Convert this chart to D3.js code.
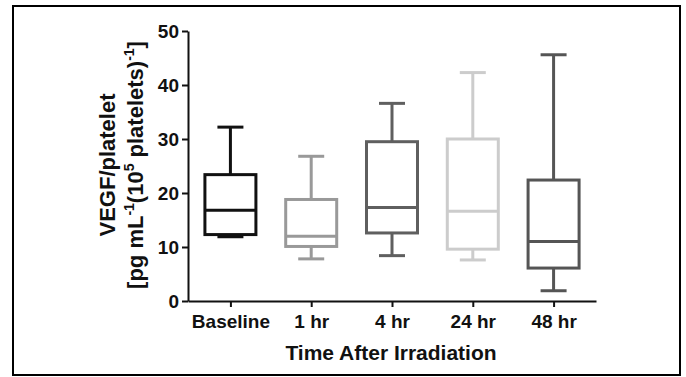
<!DOCTYPE html>
<html>
<head>
<meta charset="utf-8">
<script src="https://cdn.jsdelivr.net/npm/d3@7"></script>
<style>
  body { margin: 0; background: #fff; }
  svg { display: block; }
  text { font-family: "Liberation Sans", Arial, sans-serif; font-weight: bold; fill: #111; }
</style>
</head>
<body>
<script>
const groups = ['Baseline', '1 hr', '4 hr', '24 hr', '48 hr']
const mins    = [11.9,  7.8,  8.4,  7.6,  1.9]
const q1s     = [12.3, 10.1, 12.6,  9.6,  6.1]
const medians = [16.8, 12.0, 17.3, 16.6, 11.0]
const q3s     = [23.4, 18.8, 29.5, 30.0, 22.4]
const maxs    = [32.2, 26.8, 36.6, 42.3, 45.6]
const colors  = ['#111111', '#999999', '#5f5f5f', '#cccccc', '#555555']
const yTicks  = [0, 10, 20, 30, 40, 50]

const rows = groups.map((g, i) => ({
  group: g, min: mins[i], q1: q1s[i], median: medians[i], q3: q3s[i], max: maxs[i], color: colors[i]
}))

const width = 686
const height = 377
const margin = {top: 31, right: 90, bottom: 76, left: 188}

const svg = d3.select('body').append('svg')
  .attr('viewBox', `0 0 ${width} ${height}`)
  .attr('width', width)
  .attr('height', height)

// outer frame
svg.append('rect')
  .attr('x', 13).attr('y', 6)
  .attr('width', 667).attr('height', 369)
  .attr('fill', 'none')
  .attr('stroke', '#000')
  .attr('stroke-width', 2)

const x = d3.scalePoint()
  .domain(groups)
  .range([margin.left, width - margin.right])
  .padding(0.525)

const y = d3.scaleLinear()
  .domain([0, 50])
  .range([height - margin.bottom, margin.top])

const boxW = 51
const capW = 26

const g = svg.append('g')
  .selectAll('g')
  .data(rows)
  .join('g')
    .attr('stroke', d => d.color)
    .attr('stroke-width', 3)
    .attr('fill', 'none')

// whiskers
g.append('line')
  .attr('x1', d => x(d.group)).attr('x2', d => x(d.group))
  .attr('y1', d => y(d.q3)).attr('y2', d => y(d.max))
g.append('line')
  .attr('x1', d => x(d.group)).attr('x2', d => x(d.group))
  .attr('y1', d => y(d.q1)).attr('y2', d => y(d.min))
g.append('line')
  .attr('x1', d => x(d.group) - capW / 2).attr('x2', d => x(d.group) + capW / 2)
  .attr('y1', d => y(d.max)).attr('y2', d => y(d.max))
g.append('line')
  .attr('x1', d => x(d.group) - capW / 2).attr('x2', d => x(d.group) + capW / 2)
  .attr('y1', d => y(d.min)).attr('y2', d => y(d.min))

// box
g.append('rect')
  .attr('x', d => x(d.group) - boxW / 2)
  .attr('width', boxW)
  .attr('y', d => y(d.q3))
  .attr('height', d => y(d.q1) - y(d.q3))
  .attr('fill', '#fff')
g.append('line')
  .attr('x1', d => x(d.group) - boxW / 2).attr('x2', d => x(d.group) + boxW / 2)
  .attr('y1', d => y(d.median)).attr('y2', d => y(d.median))

// axes
const yAxis = svg.append('g')
  .attr('transform', `translate(${margin.left},0)`)
  .call(d3.axisLeft(y).tickValues(yTicks).tickSize(6).tickPadding(3).tickSizeOuter(0))
yAxis.selectAll('path, line').attr('stroke', '#111').attr('stroke-width', 2)
yAxis.selectAll('text').attr('font-size', 19).attr('font-family', null).attr('fill', '#111')

const xAxis = svg.append('g')
  .attr('transform', `translate(0,${height - margin.bottom})`)
  .call(d3.axisBottom(x).tickSize(6).tickPadding(8).tickSizeOuter(0))
xAxis.selectAll('path, line').attr('stroke', '#111').attr('stroke-width', 2)
xAxis.selectAll('text').attr('font-size', 19).attr('font-family', null).attr('fill', '#111')

// axis titles
svg.append('text')
  .attr('x', (margin.left + width - margin.right) / 2 - 1)
  .attr('y', 360)
  .attr('text-anchor', 'middle')
  .attr('font-size', 21)
  .text('Time After Irradiation')

const yTitle = svg.append('text')
  .attr('transform', 'rotate(-90)')
  .attr('text-anchor', 'middle')
  .attr('font-size', 22)

yTitle.append('tspan')
  .attr('x', -165).attr('y', 115)
  .text('VEGF/platelet')

const line2 = yTitle.append('tspan').attr('x', -165).attr('y', 143)
line2.append('tspan').text('[pg mL')
line2.append('tspan').attr('font-size', 14).attr('dy', -9).text('-1')
line2.append('tspan').attr('dy', 9).text('(10')
line2.append('tspan').attr('font-size', 14).attr('dy', -9).text('5')
line2.append('tspan').attr('dy', 9).text(' platelets)')
line2.append('tspan').attr('font-size', 14).attr('dy', -9).text('-1')
line2.append('tspan').attr('dy', 9).text(']')
</script>
</body>
</html>
